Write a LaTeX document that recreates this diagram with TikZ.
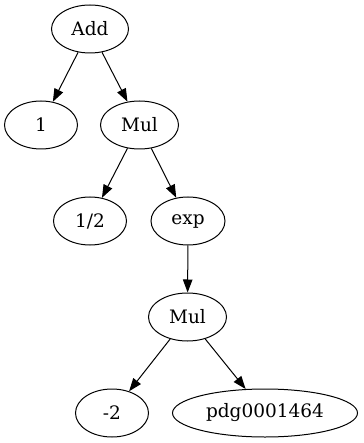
\documentclass[tikz,border=0pt]{standalone}
\usepackage{fontspec}
\setmainfont{DejaVu Serif}
\usetikzlibrary{shapes.geometric,arrows.meta}
\begin{document}
\begin{tikzpicture}[x=1pt,y=-1pt,
  tnode/.style={ellipse,draw,line width=1pt,inner sep=0pt,minimum height=48pt,font=\fontsize{18.5}{20}\selectfont},
  edge/.style={line width=1pt,-{Triangle[length=13pt,width=9.5pt]}}]
\useasboundingbox (0,0) rectangle (363,443);
\node[tnode,minimum width=77pt] (add) at (90,29) {Add};
\node[tnode,minimum width=73pt] (one) at (41,125) {1};
\node[tnode,minimum width=78pt] (mul1) at (139.5,125) {Mul};
\node[tnode,minimum width=73pt] (half) at (90,221) {1/2};
\node[tnode,minimum width=74pt] (exp) at (188,221) {exp};
\node[tnode,minimum width=78pt] (mul2) at (187.5,317) {Mul};
\node[tnode,minimum width=73pt] (m2) at (112,413) {-2};
\node[tnode,minimum width=185pt] (pdg) at (265,413) {pdg0001464};
\draw[edge] (add) -- (one);
\draw[edge] (add) -- (mul1);
\draw[edge] (mul1) -- (half);
\draw[edge] (mul1) -- (exp);
\draw[edge] (exp) -- (mul2);
\draw[edge] (mul2) -- (m2);
\draw[edge] (mul2) -- (pdg);
\end{tikzpicture}
\end{document}
